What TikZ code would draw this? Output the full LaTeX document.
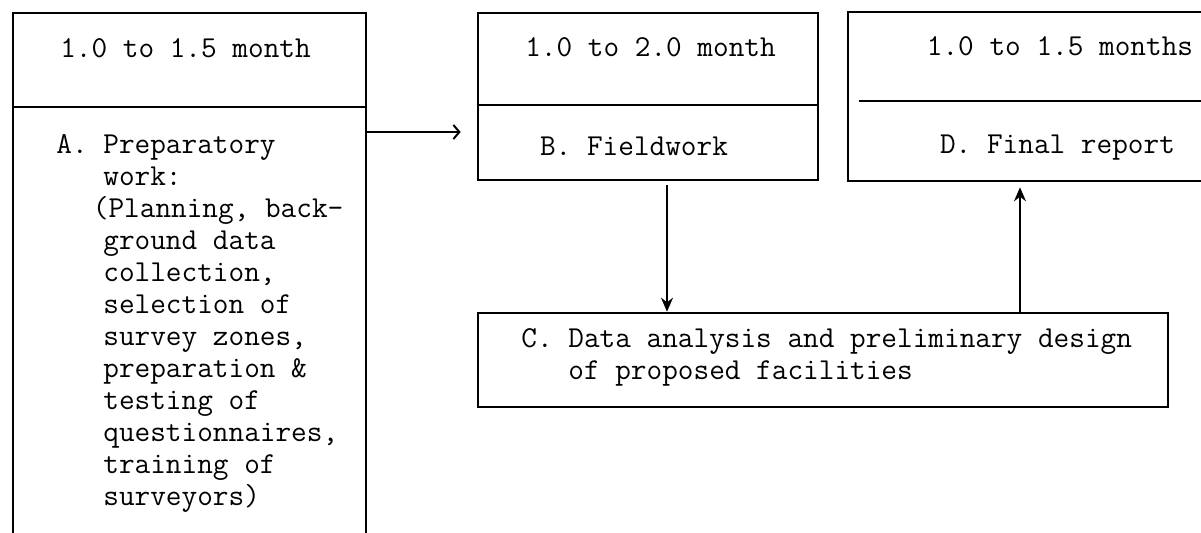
\documentclass[tikz,border=0pt]{standalone}
\usepackage{tikz}
\usetikzlibrary{arrows.meta, positioning, calc}

\begin{document}
\begin{tikzpicture}[x=0.5pt, y=-0.5pt,
    box/.style={draw, rectangle, line width=1.3pt, inner sep=0pt},
    conn/.style={line width=1pt},
    every node/.append style={font=\ttfamily\fontsize{15.2}{16}\selectfont}]
    \useasboundingbox (0,0) rectangle (1201,532);

    % Boxes
    \node[box, minimum width=176.5pt, minimum height=266pt] (boxA) at (189.5, 279) {};
    \node[box, minimum width=170pt, minimum height=83.5pt] (boxB) at (648, 96.5) {};
    \node[box, minimum width=184pt, minimum height=84.5pt] (boxD) at (1032, 96.5) {};
    \node[box, minimum width=345pt, minimum height=47pt] (boxC) at (823, 360) {};

    % Dividers
    \draw[line width=1.3pt] (boxA.west |- 0,107) -- (boxA.east |- 0,107);
    \draw[line width=1.3pt] (boxB.west |- 0,105) -- (boxB.east |- 0,105);
    \draw[line width=1.3pt] ($(boxD.west |- 0,101)+(12,0)$) -- (boxD.east |- 0,101);

    % Durations
    \node[anchor=base] (timeA) at (185.5, 57) {1.0 to 1.5 month};
    \node[anchor=base] (timeB) at (650.5, 56) {1.0 to 2.0 month};
    \node[anchor=base] (timeD) at (1060, 55) {1.0 to 1.5 months};

    % Tasks
    \node[anchor=north west, align=left, inner sep=0pt] (taskA) at (56, 134) {A. Preparatory\\
        \hphantom{A.\ }work:\\
        \hspace*{1.2em}(Planning, back-\\
        \hphantom{A.\ }ground data\\
        \hphantom{A.\ }collection,\\
        \hphantom{A.\ }selection of\\
        \hphantom{A.\ }survey zones,\\
        \hphantom{A.\ }preparation \&\\
        \hphantom{A.\ }testing of\\
        \hphantom{A.\ }questionnaires,\\
        \hphantom{A.\ }training of\\
        \hphantom{A.\ }surveyors)};
    \node[anchor=base] (taskB) at (634, 155) {B. Fieldwork};
    \node[anchor=base] (taskD) at (1057.5, 153) {D. Final report};
    \node[anchor=north west, align=left, inner sep=0pt] (taskC) at (521, 328) {C. Data analysis and preliminary design\\
        \hphantom{C.\ }of proposed facilities};

    % Connectors
    \draw[conn, -{Straight Barb[length=3pt, width=7pt]}, shorten >=8pt] (boxA.east |- 0,132) -- (boxB.west |- 0,132);
    \draw[conn, -{Stealth[length=7pt, width=6pt]}, shorten <=2pt] (boxB.south -| 667,0) -- (boxC.north -| 667,0);
    \draw[conn, -{Stealth[length=7pt, width=6pt]}, shorten >=2.5pt] (boxC.north -| 1020,0) -- (boxD.south -| 1020,0);
\end{tikzpicture}
\end{document}
